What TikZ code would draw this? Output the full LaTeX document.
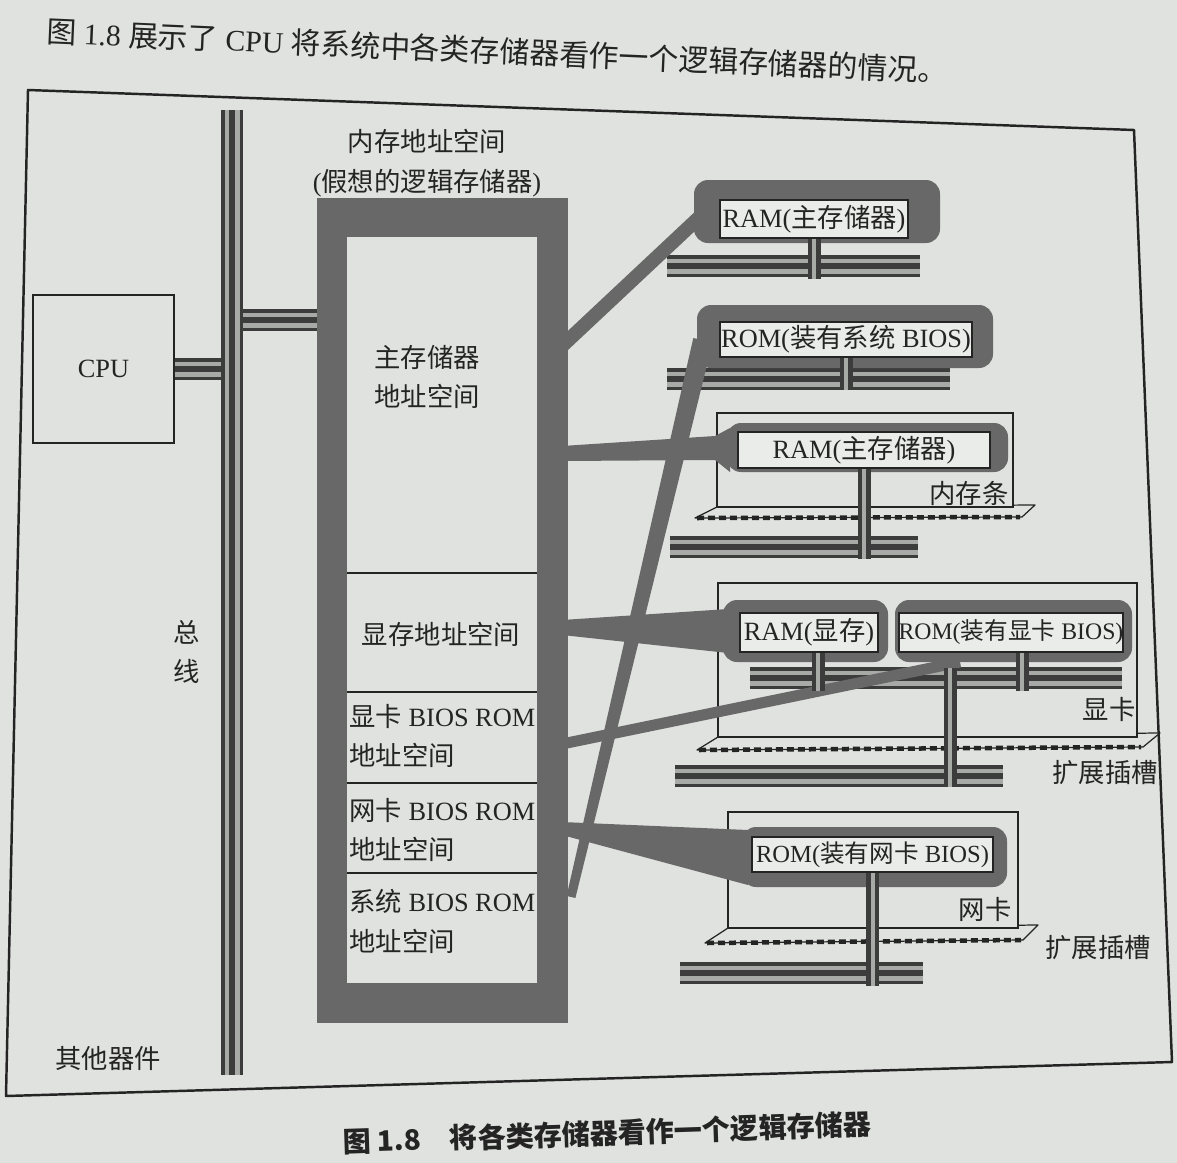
\documentclass[tikz,border=0pt]{standalone}
\usepackage{fontspec}
\setmainfont{Liberation Serif}
\newfontfamily\cjk{Noto Sans CJK SC}
\usetikzlibrary{calc}
\definecolor{paper}{RGB}{224,226,223}
\definecolor{ink}{RGB}{36,36,36}
\definecolor{band}{RGB}{104,104,104}
\definecolor{busd}{RGB}{60,60,60}
\definecolor{busl}{RGB}{168,170,167}
\definecolor{chipw}{RGB}{234,236,233}
\begin{document}
\begin{tikzpicture}[x=0.02cm, y=-0.02cm,
  lbl/.style={text=ink, inner sep=0pt, font=\fontsize{15}{22.7}\selectfont},
  bus/.style={draw=busl, line width=0.30cm, preaction={draw=busd, line width=0.44cm}, postaction={draw=busd, line width=0.12cm}},
  tap/.style={draw=busl, line width=0.08cm, preaction={draw=busd, line width=0.26cm}},
  halo/.style={fill=band, rounded corners=0.28cm},
  chip/.style={draw=ink, line width=1pt, fill=chipw, text=ink, inner sep=0pt, font=\fontsize{15}{18}\selectfont},
  card/.style={draw=ink, line width=0.9pt, fill=paper},
  slotshape/.style={draw=ink, line width=0.7pt, fill=paper, line join=round},
  teeth/.style={draw=ink, line width=0.09cm, dash pattern=on 0.14cm off 0.08cm},
  sect/.style={draw=ink, line width=1pt}]

\useasboundingbox (0,0) rectangle (1177,1163);
\fill[paper] (0,0) rectangle (1177,1163);

% running text and caption
\node[lbl, font=\fontsize{17}{20}\selectfont, rotate=-2.5] (intro) at (497,51)
  {{\cjk 图} 1.8 {\cjk 展示了} CPU {\cjk 将系统中各类存储器看作一个逻辑存储器的情况。}};
\node[lbl, font=\cjk\bfseries\fontsize{16}{20}\selectfont, rotate=1.9] (caption) at (607,1133)
  {图 1.8\quad 将各类存储器看作一个逻辑存储器};

% frame
\draw[ink, line width=1.4pt, line join=round] (28,90) -- (1134,130) -- (1172,1062) -- (6,1096) -- cycle;

% cards and slots
\draw[slotshape] (717,507) -- (1035,505) -- (1022,517) -- (695,518) -- cycle;
\draw[teeth] (697,518) -- (1020,517);
\draw[card] (717,413) rectangle (1013,507);

\draw[slotshape] (718,737) -- (1160,733) -- (1143,747) -- (697,750) -- cycle;
\draw[teeth] (699,750) -- (1141,747);
\draw[card] (718,583) rectangle (1137,737);

\draw[slotshape] (728,928) -- (1038,925) -- (1023,940) -- (705,943) -- cycle;
\draw[teeth] (707,943) -- (1021,940);
\draw[card] (728,812) rectangle (1018,928);

% buses on the right
\coordinate (bA1) at (667,266); \coordinate (bA2) at (920,266);
\coordinate (bB1) at (667,379); \coordinate (bB2) at (950,379);
\coordinate (bC1) at (670,547); \coordinate (bC2) at (918,547);
\coordinate (bD1) at (750,678); \coordinate (bD2) at (1122,678);
\coordinate (bX1) at (675,776); \coordinate (bX2) at (1003,776);
\coordinate (bE1) at (680,973); \coordinate (bE2) at (923,973);
\draw[bus] (bA1) -- (bA2);
\draw[bus] (bB1) -- (bB2);
\draw[bus] (bC1) -- (bC2);
\draw[bus] (bD1) -- (bD2);
\draw[bus] (bX1) -- (bX2);
\draw[bus] (bE1) -- (bE2);

% CPU and system bus
\coordinate (bustop) at (232,110);
\coordinate (busbot) at (232,1075);
\coordinate (memw) at (317,320);
\node[lbl, draw=ink, line width=1.3pt, fill=paper, minimum width=2.82cm, minimum height=2.96cm] (cpu) at (103.5,369) {CPU};
\draw[bus] (cpu.east) -- (cpu.east -| bustop);
\draw[bus] (memw -| bustop) -- (memw);
\draw[bus] (bustop) -- (busbot);

% memory address space
\fill[band] (317,198) rectangle (568,1023);
\fill[paper] (347,237) rectangle (537,983);
\foreach \yy in {573,692,783,873} \draw[sect] (347,\yy) -- (537,\yy);

% connectors from the address space to the devices
\coordinate (memA) at (562,346); \coordinate (haloAin) at (706,211);
\draw[band, line width=0.28cm] (memA) -- (haloAin);
\fill[band] (566.6,896) -- (575.4,898) -- (712.7,342) -- (693.3,338) -- cycle;
\fill[band] (562,446) -- (715,436) -- (730,428) -- (730,472) -- (715,460) -- (562,461) -- cycle;
\fill[band] (562,620) -- (728,609) -- (728,653) -- (562,635) -- cycle;
\coordinate (memD) at (562,744); \coordinate (haloD2in) at (960,662);
\draw[band, line width=0.22cm] (memD) -- (haloD2in);
\fill[band] (562,822) -- (748,830) -- (748,885) -- (562,835) -- cycle;

% halos
\fill[halo] (694,180) rectangle (940,243);
\fill[halo] (697,305) rectangle (993,368);
\fill[halo] (727,423) rectangle (1008,472);
\fill[halo] (723,600) rectangle (888,662);
\fill[halo] (895,600) rectangle (1132,662);
\fill[halo] (742,827) rectangle (1007,887);

% chips
\node[chip, minimum width=3.76cm, minimum height=0.76cm] (chipA) at (814,219) {RAM({\cjk 主存储器})};
\node[chip, minimum width=5.04cm, minimum height=0.70cm] (chipB) at (846,339.5) {ROM({\cjk 装有系统} BIOS)};
\node[chip, minimum width=5.04cm, minimum height=0.72cm] (chipC) at (864,450) {RAM({\cjk 主存储器})};
\node[chip, minimum width=2.76cm, minimum height=0.78cm] (chipD1) at (809,632.5) {RAM({\cjk 显存})};
\node[chip, minimum width=4.44cm, minimum height=0.78cm, font=\fontsize{13.5}{16}\selectfont] (chipD2) at (1011,632.5) {ROM({\cjk 装有显卡} BIOS)};
\node[chip, minimum width=4.82cm, minimum height=0.70cm, font=\fontsize{14}{17}\selectfont] (chipE) at (872.5,854.5) {ROM({\cjk 装有网卡} BIOS)};

% taps from chips to buses
\draw[tap] (chipA.south) -- ++(0,40);
\draw[tap] (chipB.south) -- ++(0,32);
\draw[tap] (chipC.south) -- ++(0,90);
\draw[tap] ($(chipD1.south)+(9,0)$) -- ++(0,38);
\draw[tap] ($(chipD2.south)+(11,0)$) -- ++(0,38);
\coordinate (dlink) at (950,668);
\draw[tap] (dlink) -- ($(dlink |- bX2)+(0,11)$);
\draw[tap] (chipE.south) -- ++(0,113);

% labels
\node[lbl, align=center] (memtitle) at (427,163) {{\cjk 内存地址空间}\\({\cjk 假想的逻辑存储器})};
\node[lbl, align=left, anchor=west] (mainsp) at (374,377) {{\cjk 主存储器}\\{\cjk 地址空间}};
\node[lbl] (vramsp) at (441,634) {\cjk 显存地址空间};
\node[lbl, align=left, anchor=west] (vbiossp) at (349,736) {{\cjk 显卡} BIOS ROM\\{\cjk 地址空间}};
\node[lbl, align=left, anchor=west] (nbiossp) at (349,830) {{\cjk 网卡} BIOS ROM\\{\cjk 地址空间}};
\node[lbl, align=left, anchor=west] (sbiossp) at (349,921) {{\cjk 系统} BIOS ROM\\{\cjk 地址空间}};
\node[lbl, align=center] (buslbl) at (187,652) {{\cjk 总}\\{\cjk 线}};
\node[lbl] (others) at (108,1058) {\cjk 其他器件};
\node[lbl, anchor=east] (memstick) at (1009,493) {\cjk 内存条};
\node[lbl, anchor=east] (vcard) at (1136,709) {\cjk 显卡};
\node[lbl, anchor=east] (ncard) at (1012,909) {\cjk 网卡};
\node[lbl] (slot1) at (1105,773) {\cjk 扩展插槽};
\node[lbl] (slot2) at (1098,948) {\cjk 扩展插槽};
\end{tikzpicture}
\end{document}
